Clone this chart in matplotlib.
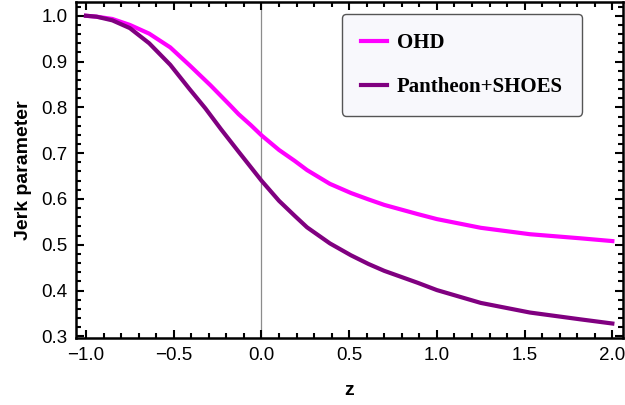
import numpy as np
import matplotlib.pyplot as plt
from matplotlib.ticker import MultipleLocator

# values
z_ohd = [-1.0, -0.94, -0.85, -0.75, -0.64, -0.52, -0.41, -0.29, -0.18, -0.13, -0.06,
         0.0, 0.10, 0.19, 0.26, 0.39, 0.51, 0.61, 0.70, 0.89, 1.0, 1.25, 1.53, 1.82, 2.0]
j_ohd = [1.0, 0.998, 0.993, 0.980, 0.961, 0.931, 0.892, 0.848, 0.805, 0.785, 0.761,
         0.739, 0.707, 0.683, 0.663, 0.633, 0.613, 0.599, 0.587, 0.567, 0.556, 0.537,
         0.523, 0.514, 0.508]
z_pan = [-1.0, -0.94, -0.85, -0.75, -0.64, -0.52, -0.41, -0.32, -0.23, -0.13, 0.0,
         0.10, 0.19, 0.26, 0.39, 0.51, 0.61, 0.70, 0.89, 1.0, 1.25, 1.53, 1.82, 2.0]
j_pan = [1.0, 0.998, 0.990, 0.973, 0.940, 0.893, 0.840, 0.798, 0.752, 0.703, 0.640,
         0.596, 0.563, 0.538, 0.503, 0.477, 0.458, 0.443, 0.417, 0.401, 0.373, 0.352,
         0.337, 0.328]

plt.rcParams['font.family'] = ['Liberation Sans', 'DejaVu Sans']

fig = plt.figure(figsize=(6.25, 4.05), dpi=100)
ax = fig.add_axes([0.1216, 0.165, 0.875, 0.83])

ax.axvline(0, color='#8c8c8c', lw=0.9, zorder=1)
ax.plot(z_ohd, j_ohd, color='#ff00ff', lw=3.0, label='OHD', zorder=3,
        solid_joinstyle='round')
ax.plot(z_pan, j_pan, color='#800080', lw=3.0, label='Pantheon+SHOES', zorder=3,
        solid_joinstyle='round')

ax.set_xlim(-1.057, 2.06)
ax.set_ylim(0.296, 1.03)
ax.xaxis.set_major_locator(MultipleLocator(0.5))
ax.xaxis.set_minor_locator(MultipleLocator(0.1))
ax.yaxis.set_major_locator(MultipleLocator(0.1))
ax.yaxis.set_minor_locator(MultipleLocator(0.02))
ax.xaxis.set_major_formatter(lambda v, p: f'{v:.1f}'.replace('-', '\u2212'))
ax.yaxis.set_major_formatter(lambda v, p: f'{v:.1f}')

ax.tick_params(which='both', direction='in', top=True, right=True, width=1.5,
               labelsize=13.5, colors='black')
ax.tick_params(which='major', length=6, pad=6)
ax.tick_params(which='minor', length=3.5)
for s in ax.spines.values():
    s.set_linewidth(1.8)

ax.set_xlabel('z', fontsize=14, fontweight='bold', labelpad=13)
ax.set_ylabel('Jerk parameter', fontsize=14, fontweight='bold', labelpad=7)

leg = ax.legend(loc='upper left', bbox_to_anchor=(0.486, 0.964), borderaxespad=0,
                prop={'family': 'Liberation Serif', 'weight': 'bold', 'size': 15},
                handlelength=1.25, handletextpad=0.5, labelspacing=1.15,
                borderpad=0.9, fancybox=True, framealpha=1)
leg.get_frame().set_edgecolor('#555555')
leg.get_frame().set_facecolor('#f8f8fc')
leg.get_frame().set_linewidth(1.0)

fig.savefig('out.png', dpi=100)
